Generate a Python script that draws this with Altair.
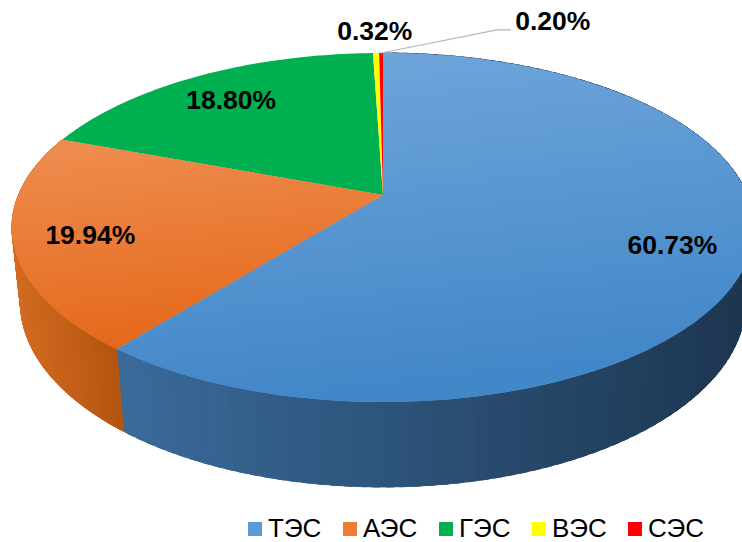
import altair as alt
import pandas as pd

categories = ["ТЭС", "АЭС", "ГЭС", "ВЭС", "СЭС"]
shares = [60.73, 19.94, 18.80, 0.32, 0.20]
colors = ["#5b9bd5", "#ed7d31", "#00b050", "#ffff00", "#ff0000"]

df = pd.DataFrame({"cat": categories, "val": shares, "ord": list(range(len(categories)))})

# projection of the tilted (perspective) pie
CX, CY, KX, KY, P = 383, 195, 364.5, 168.5, 0.1863
DEPTH_PX, DEPTH_P = 75.7, 0.0227
FONT = "Liberation Sans"

X = alt.X("px:Q", scale=alt.Scale(domain=[0, 742], nice=False, zero=False), axis=None)
Y = alt.Y("py:Q", scale=alt.Scale(domain=[0, 542], nice=False, zero=False, reverse=True), axis=None)

base = (
    alt.Chart(df)
    .transform_window(cum="sum(val)", sort=[alt.SortField("ord")])
    .transform_joinaggregate(tot="sum(val)")
    .transform_calculate(a1="2*PI*datum.cum/datum.tot")
    .transform_calculate(a0="2*PI*(datum.cum-datum.val)/datum.tot")
)


def face_pts(ch, n=60):
    return (
        ch.transform_calculate(idx=f"sequence(0,{n + 2})")
        .transform_flatten(["idx"])
        .transform_calculate(t=f"datum.a0+(datum.a1-datum.a0)*min(datum.idx,{n})/{n}")
        .transform_calculate(r=f"datum.idx>{n}?0:1")
        .transform_calculate(den=f"1+{P}*datum.r*cos(datum.t)")
        .transform_calculate(px=f"{CX}+{KX}*datum.r*sin(datum.t)/datum.den")
        .transform_calculate(py=f"{CY}-{KY}*datum.r*cos(datum.t)/datum.den")
    )


def wall(cat, dom, rng, n=120):
    sc = alt.Scale(domain=dom, range=rng)
    return (
        base.transform_filter(alt.datum.cat == cat)
        .transform_calculate(j=f"sequence(0,{n})")
        .transform_flatten(["j"])
        .transform_calculate(k="[0,1,2,3]")
        .transform_flatten(["k"])
        .transform_calculate(
            t=f"min(datum.a1, datum.a0+(datum.a1-datum.a0)*(datum.j+((datum.k==1||datum.k==2)?1.6:0))/{n})"
        )
        .transform_calculate(h="datum.k>=2?1:0")
        .transform_calculate(den=f"1+{P}*cos(datum.t)+{DEPTH_P}*datum.h")
        .transform_calculate(px=f"{CX}+{KX}*sin(datum.t)/datum.den")
        .transform_calculate(py=f"{CY}+(-{KY}*cos(datum.t)+{DEPTH_PX}*datum.h)/datum.den")
        .transform_joinaggregate(shade="mean(px)", groupby=["j"])
        .mark_line(filled=True, interpolate="linear-closed", strokeWidth=1)
        .encode(
            x=X, y=Y, order="k:Q", detail="j:N",
            color=alt.Color("shade:Q", scale=sc, legend=None),
            stroke=alt.Stroke("shade:Q", scale=sc, legend=None),
        )
    )


wall_blue = wall("ТЭС", [118, 742], ["#3a6b9b", "#1d3650"])
wall_orange = wall("АЭС", [12, 125], ["#d46c22", "#b3530e"])

faces = (
    face_pts(base)
    .mark_line(filled=True, interpolate="linear-closed")
    .encode(
        x=X, y=Y, order="idx:Q", detail="cat:N",
        color=alt.Color(
            "cat:N",
            scale=alt.Scale(domain=categories, range=colors),
            sort=categories,
            legend=alt.Legend(
                title=None, orient="none", legendX=242, legendY=516,
                direction="horizontal", symbolType="square", symbolSize=196,
                symbolStrokeWidth=0, labelFont=FONT, labelFontSize=26,
                labelColor="black", labelOffset=0, columnPadding=15, padding=0,
            ),
        ),
    )
)


def grad_face(cat, c1, c2):
    g = alt.Gradient(
        gradient="linear",
        stops=[alt.GradientStop(color=c1, offset=0), alt.GradientStop(color=c2, offset=1)],
        x1=0, x2=0.2, y1=0, y2=1,
    )
    return (
        face_pts(base.transform_filter(alt.datum.cat == cat))
        .mark_line(filled=True, interpolate="linear-closed", fill=g)
        .encode(x=X, y=Y, order="idx:Q")
    )


blue_top = grad_face("ТЭС", "#71a7dc", "#4287c8")
orange_top = grad_face("АЭС", "#ef8e52", "#e4691b")

lab = (
    base.transform_calculate(m="(datum.a0+datum.a1)/2")
    .transform_calculate(r="datum.val<1?1.215:0.8")
    .transform_calculate(den=f"1+{P}*datum.r*cos(datum.m)")
    .transform_calculate(px=f"{CX}+{KX}*datum.r*sin(datum.m)/datum.den")
    .transform_calculate(py=f"{CY}-{KY}*datum.r*cos(datum.m)/datum.den")
    .transform_calculate(label="format(datum.val,'.2f')+'%'")
)
text_style = dict(font=FONT, fontWeight="bold", fontSize=26.5, color="black", baseline="middle", align="center")
labels = lab.transform_filter(alt.datum.cat != "СЭС").mark_text(dy=4, **text_style).encode(x=X, y=Y, text="label:N")
label_red = lab.transform_filter(alt.datum.cat == "СЭС").mark_text(dx=172, dy=-6, **text_style).encode(x=X, y=Y, text="label:N")

leader = (
    base.transform_filter(alt.datum.cat == "СЭС")
    .transform_calculate(m="(datum.a0+datum.a1)/2")
    .transform_calculate(idx="sequence(0,3)")
    .transform_flatten(["idx"])
    .transform_calculate(den=f"1+{P}*cos(datum.m)")
    .transform_calculate(px=f"{CX}+{KX}*sin(datum.m)/datum.den+(datum.idx==0?0:(datum.idx==1?116:130))")
    .transform_calculate(py=f"{CY}-{KY}*cos(datum.m)/datum.den+(datum.idx==0?0:-23)")
    .mark_line(color="#a9b9cc", strokeWidth=1.2)
    .encode(x=X, y=Y, order="idx:Q")
)

chart = (
    alt.layer(wall_blue, wall_orange, faces, blue_top, orange_top, labels, label_red, leader)
    .resolve_scale(color="independent", stroke="independent")
    .properties(width=742, height=542, padding=0, autosize="none", background="white")
    .configure_view(stroke=None)
)

chart.save("out.html", embed_options={"renderer": "svg", "actions": False})
